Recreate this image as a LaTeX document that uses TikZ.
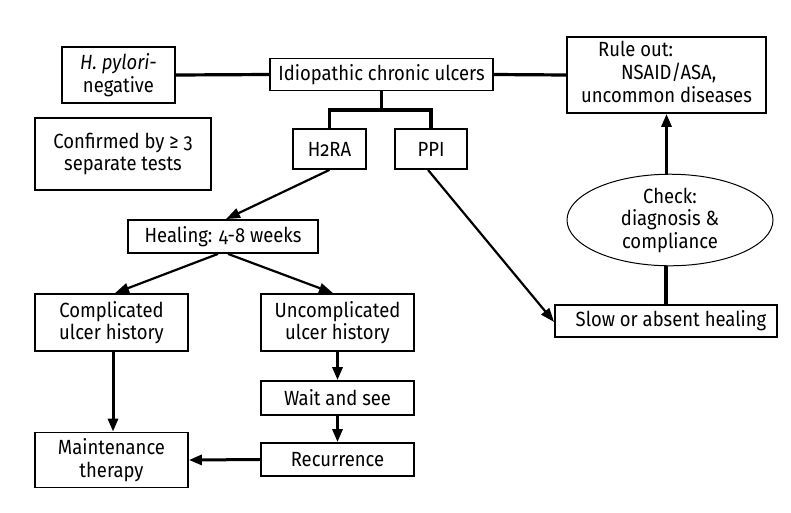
\documentclass[tikz,border=0pt]{standalone}
\usepackage{fontspec}
\setmainfont{Fira Sans}[Numbers=OldStyle,FakeStretch=0.9]
\usetikzlibrary{arrows.meta,shapes.geometric}
\tikzset{
  box/.style={draw, line width=1.8pt, rectangle, inner sep=0pt, align=center},
  thickline/.style={line width=3.2pt},
  arr/.style={line width=3pt, -{Triangle[length=13pt,width=10pt]}},
  diag/.style={line width=2.2pt, -{Triangle[length=14pt,width=10pt]}},
}
\begin{document}
\begin{tikzpicture}[x=1pt,y=-1pt,font=\fontsize{20.5}{22.5}\selectfont]
\useasboundingbox (0,0) rectangle (791,512);
\node[box, minimum width=113pt, minimum height=56pt] (hp) at (118.5,75) {\textit{H. pylori-}\\negative};
\node[box, minimum width=223pt, minimum height=32pt] (idio) at (381.5,74.5) {Idiopathic chronic ulcers};
\node[box, minimum width=199pt, minimum height=76pt] (rule) at (666.5,75) {\begin{tabular}{@{}l@{}}\hspace*{17pt}Rule out:\\\hspace*{40pt}NSAID/ASA,\\uncommon diseases\end{tabular}};
\node[box, minimum width=176pt, minimum height=72pt] (conf) at (123,154) {Confirmed by ≥ 3\\separate tests};
\node[box, minimum width=73pt, minimum height=40pt] (h2ra) at (329.5,149) {H2RA};
\node[box, minimum width=72pt, minimum height=40pt] (ppi) at (431,149) {PPI};
\node[box, minimum width=190pt, minimum height=33pt] (heal) at (223,236.5) {Healing: 4-8 weeks};
\node[draw, ellipse, line width=1pt, minimum width=206pt, minimum height=84pt, inner sep=0pt, align=center] (check) at (670,220) {Check:\\diagnosis \&\\compliance};
\node[box, minimum width=222pt, minimum height=32pt] (slow) at (666,321) {\hspace*{10pt}Slow or absent healing};
\node[box, minimum width=153pt, minimum height=57pt] (comp) at (111.5,322.5) {Complicated\\ulcer history};
\node[box, minimum width=153pt, minimum height=57pt] (uncomp) at (337.5,322.5) {Uncomplicated\\ulcer history};
\node[box, minimum width=153pt, minimum height=34pt] (wait) at (337.5,398) {Wait and see};
\node[box, minimum width=153pt, minimum height=33pt] (recur) at (337.5,459.5) {Recurrence};
\node[box, minimum width=153pt, minimum height=55pt] (maint) at (111.5,460) {Maintenance\\therapy};
\coordinate (br) at (381.5,110);
% connectors
\draw[thickline] (hp.east) -- (idio.west);
\draw[thickline] (idio.east) -- (rule.west);
\draw[thickline] (idio.south) -- (br);
\draw[thickline] (h2ra.north) |- (br) -| (ppi.north);
\draw[diag] (h2ra.south) -- ([xshift=3pt]heal.north);
\draw[diag] ([xshift=-3pt]ppi.south) -- ([yshift=-1pt]slow.west);
\draw[arr] (check.north -| rule.south) -- (rule.south);
\draw[thickline] (slow.north) -- (slow.north |- check.south);
\draw[diag] ([xshift=-5pt]heal.south) -- ([xshift=3.5pt]comp.north);
\draw[diag] ([xshift=5pt]heal.south) -- ([xshift=-4.5pt]uncomp.north);
\draw[arr] ([xshift=1.5pt]comp.south) -- ([xshift=1.5pt]maint.north);
\draw[arr] (uncomp.south) -- (wait.north);
\draw[arr] (wait.south) -- (recur.north);
\draw[arr] (recur.west) -- (maint.east);
\end{tikzpicture}
\end{document}
